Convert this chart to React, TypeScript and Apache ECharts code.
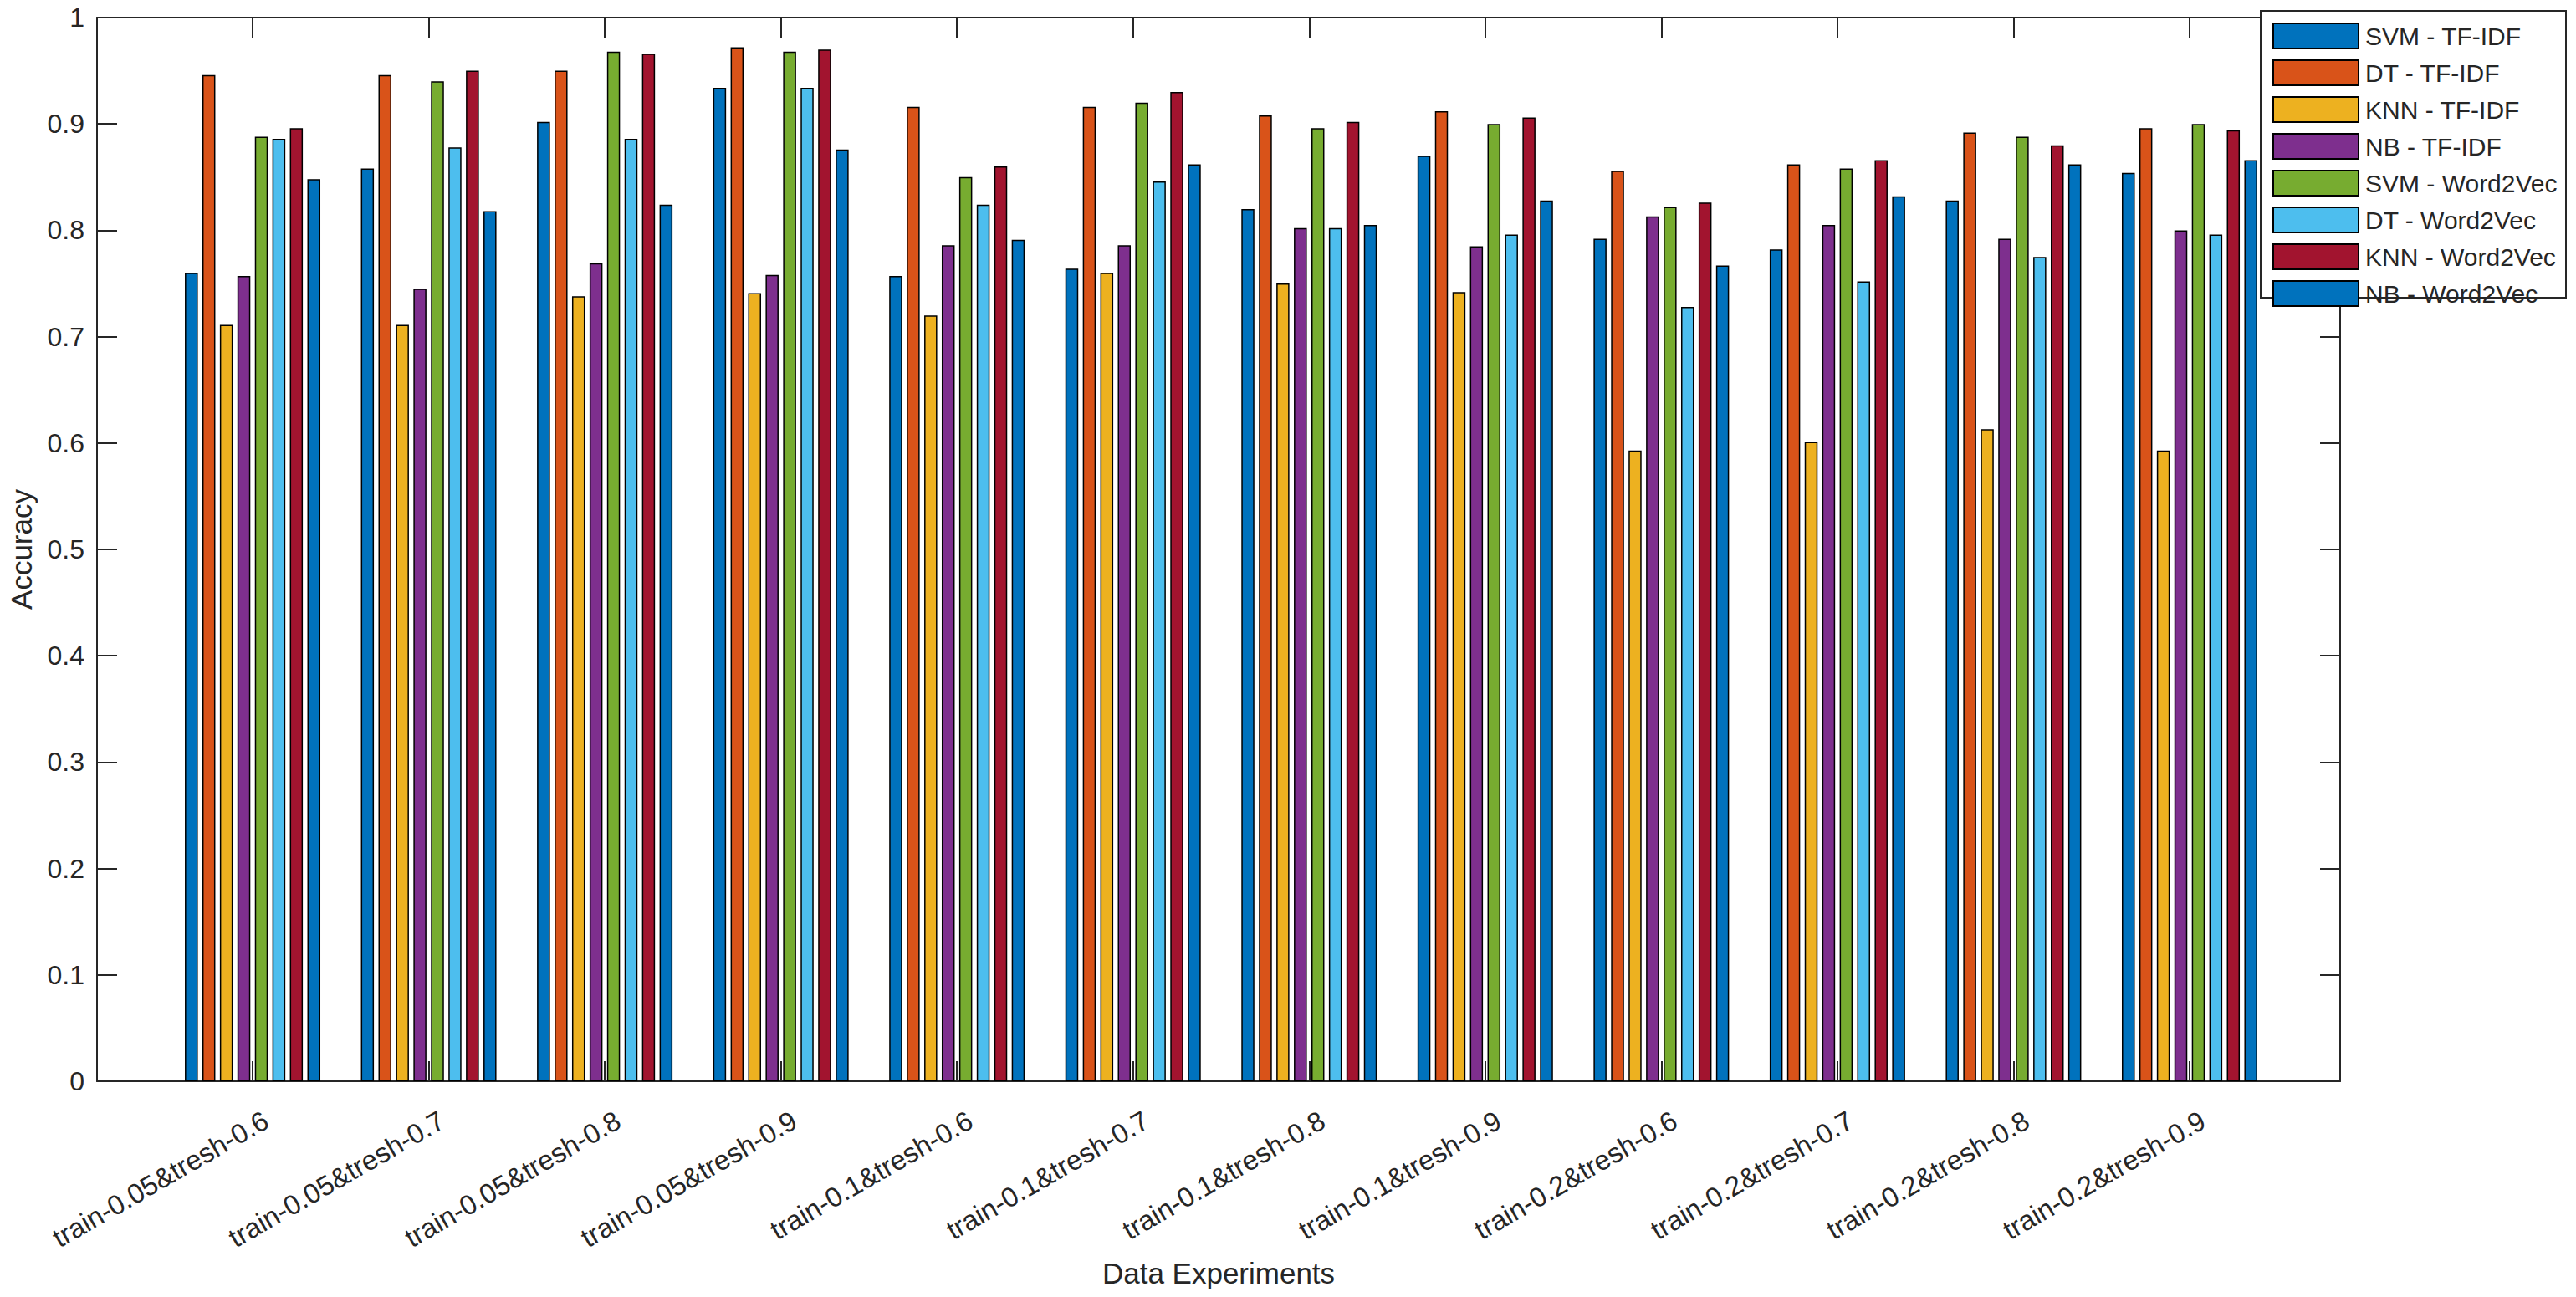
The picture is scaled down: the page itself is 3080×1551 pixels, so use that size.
import React, { useEffect, useRef } from "react";
import * as echarts from "echarts";

const categories = [
  "train-0.05&tresh-0.6",
  "train-0.05&tresh-0.7",
  "train-0.05&tresh-0.8",
  "train-0.05&tresh-0.9",
  "train-0.1&tresh-0.6",
  "train-0.1&tresh-0.7",
  "train-0.1&tresh-0.8",
  "train-0.1&tresh-0.9",
  "train-0.2&tresh-0.6",
  "train-0.2&tresh-0.7",
  "train-0.2&tresh-0.8",
  "train-0.2&tresh-0.9",
];

const seriesNames = [
  "SVM - TF-IDF",
  "DT - TF-IDF",
  "KNN - TF-IDF",
  "NB - TF-IDF",
  "SVM - Word2Vec",
  "DT - Word2Vec",
  "KNN - Word2Vec",
  "NB - Word2Vec",
];

const svmTfidf = [0.760, 0.858, 0.902, 0.934, 0.757, 0.764, 0.820, 0.870, 0.792, 0.782, 0.828, 0.854];
const dtTfidf = [0.946, 0.946, 0.950, 0.972, 0.916, 0.916, 0.908, 0.912, 0.856, 0.862, 0.892, 0.896];
const knnTfidf = [0.711, 0.711, 0.738, 0.741, 0.720, 0.760, 0.750, 0.742, 0.593, 0.601, 0.613, 0.593];
const nbTfidf = [0.757, 0.745, 0.769, 0.758, 0.786, 0.786, 0.802, 0.785, 0.813, 0.805, 0.792, 0.800];
const svmW2v = [0.888, 0.940, 0.968, 0.968, 0.850, 0.920, 0.896, 0.900, 0.822, 0.858, 0.888, 0.900];
const dtW2v = [0.886, 0.878, 0.886, 0.934, 0.824, 0.846, 0.802, 0.796, 0.728, 0.752, 0.775, 0.796];
const knnW2v = [0.896, 0.950, 0.966, 0.970, 0.860, 0.930, 0.902, 0.906, 0.826, 0.866, 0.880, 0.894];
const nbW2v = [0.848, 0.818, 0.824, 0.876, 0.791, 0.862, 0.805, 0.828, 0.767, 0.832, 0.862, 0.866];

const seriesValues = [svmTfidf, dtTfidf, knnTfidf, nbTfidf, svmW2v, dtW2v, knnW2v, nbW2v];

const colors = ["#0072BD", "#D95319", "#EDB120", "#7E2F8E", "#77AC30", "#4DBEEE", "#A2142F", "#0072BD"];

const FONT = "'Liberation Sans', Arial, Helvetica, sans-serif";
const AX = "#262626";

export default function App() {
  const ref = useRef<HTMLDivElement>(null);

  useEffect(() => {
    if (!ref.current) return;
    const chart = echarts.init(ref.current, undefined, { renderer: "svg" });

    const catTick = {
      show: true,
      inside: true,
      length: 24,
      alignWithLabel: true,
      lineStyle: { color: AX, width: 2 },
    };
    const frameLine = { show: true, onZero: false, lineStyle: { color: AX, width: 2 } };

    const option: any = {
      animation: false,
      backgroundColor: "#ffffff",
      textStyle: { fontFamily: FONT },
      grid: [
        { left: 196.75, right: 356.75, top: 21, bottom: 258 },
        { left: 116, right: 282, top: 21, bottom: 258 },
        { left: 212.75, right: 340.75, top: 21, bottom: 258 },
      ],
      xAxis: [
        {
          type: "category",
          gridIndex: 0,
          data: categories,
          position: "bottom",
          axisLine: { show: false },
          axisTick: catTick,
          axisLabel: { show: false },
        },
        {
          type: "category",
          gridIndex: 0,
          data: categories,
          position: "top",
          axisLine: { show: false },
          axisTick: catTick,
          axisLabel: { show: false },
        },
        {
          type: "value",
          gridIndex: 1,
          min: 0,
          max: 1,
          position: "bottom",
          axisLine: frameLine,
          axisTick: { show: false },
          axisLabel: { show: false },
          splitLine: { show: false },
          name: "Data Experiments",
          nameLocation: "middle",
          nameGap: 212,
          nameTextStyle: { fontFamily: FONT, fontSize: 35, color: AX },
        },
        {
          type: "value",
          gridIndex: 1,
          min: 0,
          max: 1,
          position: "top",
          axisLine: frameLine,
          axisTick: { show: false },
          axisLabel: { show: false },
          splitLine: { show: false },
        },
        {
          type: "category",
          gridIndex: 2,
          data: categories,
          position: "bottom",
          axisLine: { show: false },
          axisTick: { show: false },
          axisLabel: {
            rotate: 30,
            margin: 44,
            interval: 0,
            fontFamily: FONT,
            fontSize: 33,
            color: AX,
          },
        },
      ],
      yAxis: [
        { type: "value", gridIndex: 0, min: 0, max: 1, interval: 0.1, show: false },
        {
          type: "value",
          gridIndex: 1,
          min: 0,
          max: 1,
          interval: 0.1,
          position: "left",
          axisLine: frameLine,
          axisTick: { show: true, inside: true, length: 24, lineStyle: { color: AX, width: 2 } },
          axisLabel: {
            margin: 15,
            fontFamily: FONT,
            fontSize: 32,
            color: AX,
            formatter: (v: number) => (v === 0 ? "0" : v === 1 ? "1" : v.toFixed(1)),
          },
          splitLine: { show: false },
          name: "Accuracy",
          nameLocation: "middle",
          nameGap: 73,
          nameTextStyle: { fontFamily: FONT, fontSize: 35, color: AX },
        },
        {
          type: "value",
          gridIndex: 1,
          min: 0,
          max: 1,
          interval: 0.1,
          position: "right",
          axisLine: frameLine,
          axisTick: { show: true, inside: true, length: 24, lineStyle: { color: AX, width: 2 } },
          axisLabel: { show: false },
          splitLine: { show: false },
        },
        { type: "value", gridIndex: 2, min: 0, max: 1, show: false },
      ],
      legend: {
        orient: "vertical",
        left: 2712,
        top: 22,
        itemWidth: 102,
        itemHeight: 30,
        itemGap: 12,
        icon: "rect",
        z: 5,
        data: seriesNames,
        textStyle: { fontFamily: FONT, fontSize: 30, color: AX, lineHeight: 30, padding: [0, 0, 0, 3] },
      },
      graphic: [
        {
          type: "rect",
          z: 4,
          shape: { x: 2703, y: 13, width: 365, height: 343 },
          style: { fill: "#ffffff", stroke: AX, lineWidth: 2 },
        },
      ],
      series: seriesNames.map((name, i) => ({
        name,
        type: "bar",
        xAxisIndex: 0,
        yAxisIndex: 0,
        data: seriesValues[i],
        barWidth: 15.5,
        barGap: "35%",
        itemStyle: { color: colors[i], borderColor: "#000000", borderWidth: 1.5 },
      })),
    };

    chart.setOption(option);
    return () => chart.dispose();
  }, []);

  return (
    <div
      ref={ref}
      style={{ position: "fixed", left: 0, top: 0, width: 3080, height: 1551, background: "#fff" }}
    />
  );
}
